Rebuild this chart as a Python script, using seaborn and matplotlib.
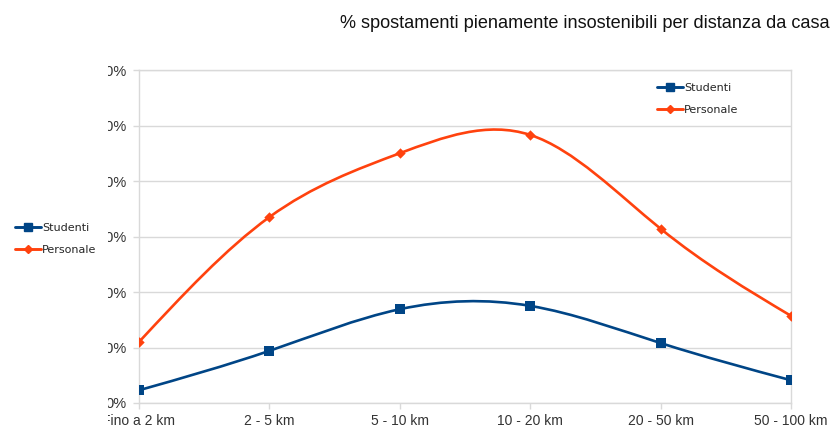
import numpy as np
import matplotlib
matplotlib.use('Agg')
import matplotlib.pyplot as plt
import seaborn as sns
from matplotlib.path import Path
from matplotlib.patches import PathPatch
from matplotlib.lines import Line2D
from matplotlib.transforms import Bbox, TransformedBbox
from matplotlib import font_manager

categories = ['Fino a 2 km', '2 - 5 km', '5 - 10 km', '10 - 20 km', '20 - 50 km', '50 - 100 km']
studenti = [2.3, 9.4, 16.9, 17.5, 10.8, 4.1]
personale = [11.0, 33.5, 45.0, 48.3, 31.4, 15.7]
y_ticks = [0, 10, 20, 30, 40, 50, 60]
y_labels = [f'{v}%' for v in y_ticks]
title = '% spostamenti pienamente insostenibili per distanza da casa'

blue = '#004586'
orange = '#ff420e'
grid_col = '#d9d9d9'

sns.set_style('white')
plt.rcParams['font.family'] = ['DejaVu Sans']

names = {f.name for f in font_manager.fontManager.ttflist}
tick_font = 'Liberation Sans Narrow' if 'Liberation Sans Narrow' in names else 'Liberation Sans'


def spline_path(ys):
    # natural cubic spline through the points, drawn as bezier segments
    n = len(ys)
    y = np.asarray(ys, dtype=float)
    A = np.zeros((n, n))
    b = np.zeros(n)
    A[0, 0], A[0, 1], b[0] = 2, 1, 3 * (y[1] - y[0])
    A[-1, -2], A[-1, -1], b[-1] = 1, 2, 3 * (y[-1] - y[-2])
    for i in range(1, n - 1):
        A[i, i - 1], A[i, i], A[i, i + 1] = 1, 4, 1
        b[i] = 3 * (y[i + 1] - y[i - 1])
    m = np.linalg.solve(A, b)
    verts = [(0, y[0])]
    codes = [Path.MOVETO]
    for i in range(n - 1):
        verts += [(i + 1 / 3, y[i] + m[i] / 3), (i + 2 / 3, y[i + 1] - m[i + 1] / 3), (i + 1, y[i + 1])]
        codes += [Path.CURVE4] * 3
    return Path(verts, codes)


fig = plt.figure(figsize=(8.35, 4.3), dpi=100)
ax = fig.add_axes([139 / 835, 1 - 403 / 430, (791 - 139) / 835, (403 - 70) / 430])

x = np.arange(len(categories))
for vals, col in [(studenti, blue), (personale, orange)]:
    ax.add_patch(PathPatch(spline_path(vals), fill=False, edgecolor=col, lw=1.9, zorder=3,
                           capstyle='round'))

sns.scatterplot(x=x, y=studenti, marker='s', s=55, color=blue, edgecolor=blue, linewidth=0,
                ax=ax, zorder=4, legend=False)
sns.scatterplot(x=x, y=personale, marker='D', s=28, color=orange, edgecolor=orange, linewidth=0,
                ax=ax, zorder=4, legend=False)

ax.set_xlim(0, len(categories) - 1)
ax.set_ylim(0, 60)
ax.set_xticks(x)
ax.set_xticklabels(categories)
ax.set_yticks(y_ticks)
ax.set_yticklabels(y_labels)
ax.yaxis.grid(True, color=grid_col, lw=1)
ax.xaxis.grid(False)
for s in ax.spines.values():
    s.set_color(grid_col)
    s.set_linewidth(1)
ax.tick_params(axis='x', length=4, width=1, color=grid_col, pad=4, labelsize=10, labelcolor='#333333')
ax.tick_params(axis='y', length=4.3, width=1, color=grid_col, pad=4.5, labelsize=10.5, labelcolor='#333333')
ax.tick_params(left=True, bottom=True)

clip = TransformedBbox(Bbox.from_extents(108 / 835, 0, 1, 1), fig.transFigure)
for lab in ax.get_xticklabels() + ax.get_yticklabels():
    lab.set_family([tick_font, 'DejaVu Sans'])
    lab.set_clip_on(True)
    lab.set_clip_box(clip)

handles = [
    Line2D([], [], color=blue, lw=2.1, marker='s', markersize=6),
    Line2D([], [], color=orange, lw=2.1, marker='D', markersize=4),
]
labels = ['Studenti', 'Personale']
leg_kw = dict(frameon=False, fontsize=8, handlelength=2.3, handletextpad=0.12,
              labelspacing=1.05, borderpad=0, borderaxespad=0, loc='upper left')
fig.legend(handles, labels, bbox_to_anchor=(657 / 835, 1 - 83 / 430), **leg_kw)
fig.legend(handles, labels, bbox_to_anchor=(15 / 835, 1 - 223 / 430), **leg_kw)

fig.text(830 / 835, 1 - 24 / 430, title, ha='right', va='center', fontsize=13.1,
         family=['Liberation Sans', 'DejaVu Sans'], color='#111111')

fig.savefig('out.png', dpi=100)
